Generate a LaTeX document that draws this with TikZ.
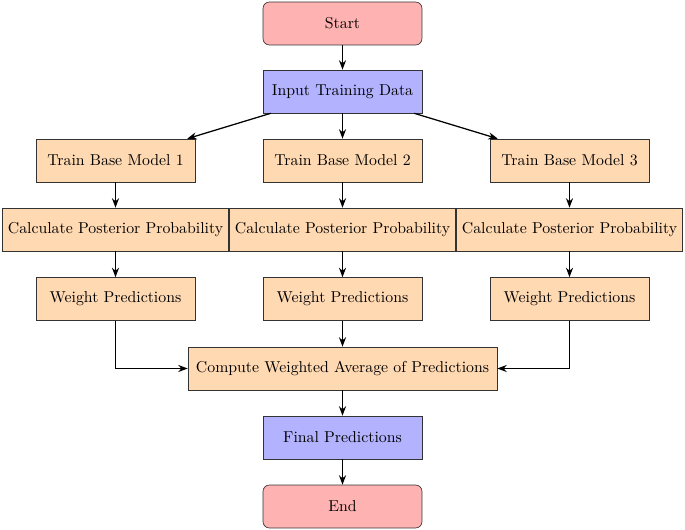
\documentclass[tikz,border=0pt]{standalone}
\usetikzlibrary{arrows.meta}
\begin{document}
\begin{tikzpicture}[x=0.633pt,y=-0.633pt,
  base/.style={draw=black!80, text centered, minimum height=27.2pt, inner sep=0.333em},
  startstop/.style={base, rounded corners, fill=red!30, minimum width=100.6pt},
  io/.style={base, fill=blue!30, minimum width=100.6pt},
  process/.style={base, fill=orange!30, minimum width=100.6pt},
  arrow/.style={thick, -{Stealth[length=6pt,width=4.5pt]}}]
\useasboundingbox (0,0) rectangle (685,530);
\node[startstop] (start) at (342.5,23.5) {Start};
\node[io] (input) at (342.5,91.5) {Input Training Data};
\node[process] (t1) at (115.5,160.5) {Train Base Model 1};
\node[process] (t2) at (342.5,160.5) {Train Base Model 2};
\node[process] (t3) at (569.5,160.5) {Train Base Model 3};
\node[process] (c1) at (115.5,229.5) {Calculate Posterior Probability};
\node[process] (c2) at (342.5,229.5) {Calculate Posterior Probability};
\node[process] (c3) at (569.5,229.5) {Calculate Posterior Probability};
\node[process] (w1) at (115.5,299) {Weight Predictions};
\node[process] (w2) at (342.5,299) {Weight Predictions};
\node[process] (w3) at (569.5,299) {Weight Predictions};
\node[process, minimum width=195.6pt] (avg) at (342.5,368.5) {Compute Weighted Average of Predictions};
\node[io] (final) at (342.5,437.5) {Final Predictions};
\node[startstop] (end) at (342.5,506.5) {End};
\draw[arrow] (start) -- (input);
\draw[arrow] (input) -- (t1);
\draw[arrow] (input) -- (t2);
\draw[arrow] (input) -- (t3);
\draw[arrow] (t1) -- (c1);
\draw[arrow] (t2) -- (c2);
\draw[arrow] (t3) -- (c3);
\draw[arrow] (c1) -- (w1);
\draw[arrow] (c2) -- (w2);
\draw[arrow] (c3) -- (w3);
\draw[arrow] (w1) |- (avg);
\draw[arrow] (w2) -- (avg);
\draw[arrow] (w3) |- (avg);
\draw[arrow] (avg) -- (final);
\draw[arrow] (final) -- (end);
\end{tikzpicture}
\end{document}
